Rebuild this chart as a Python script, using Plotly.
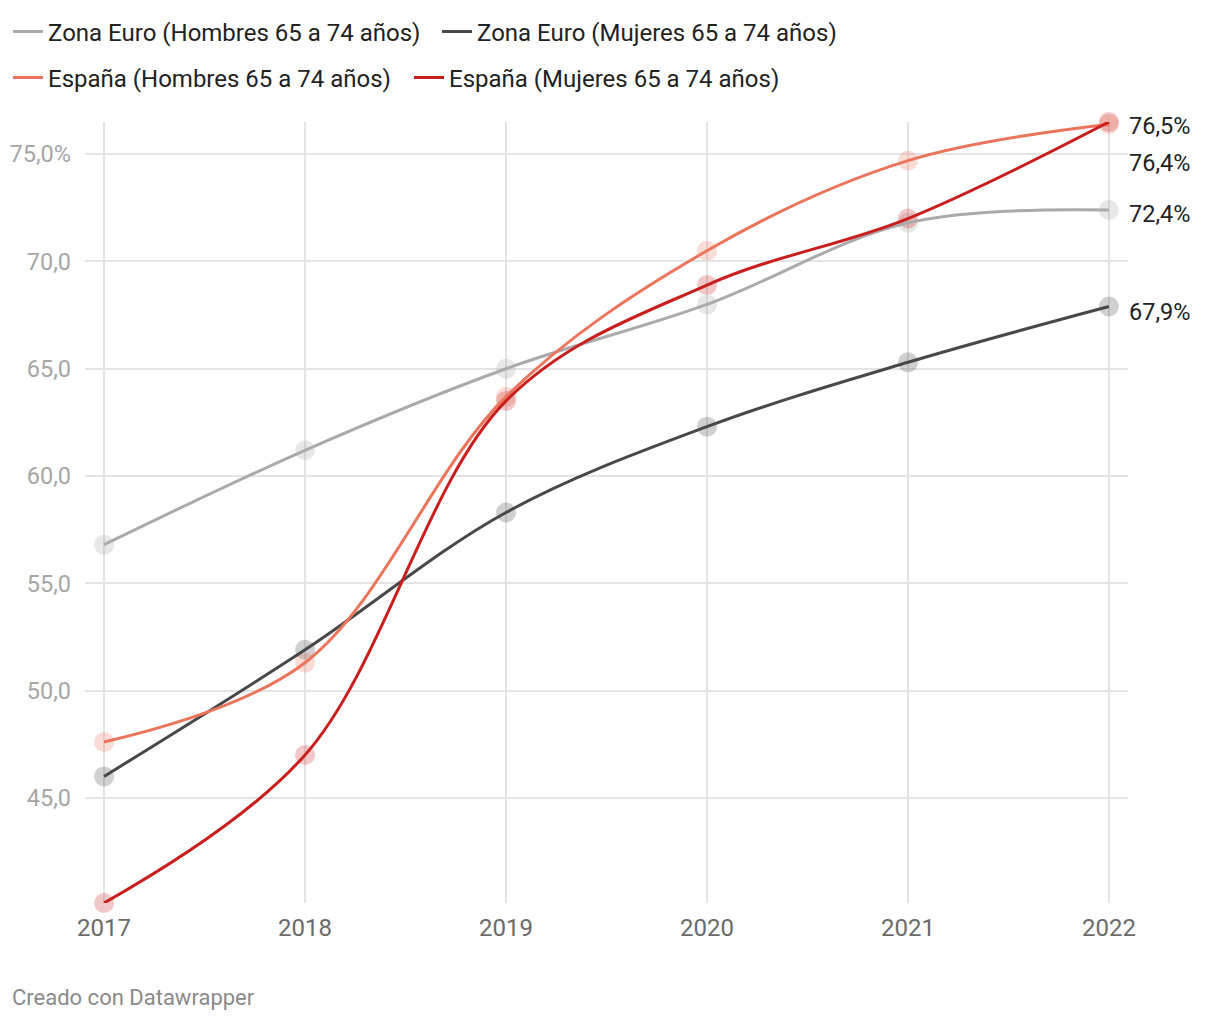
import plotly.graph_objects as go

years = [2017, 2018, 2019, 2020, 2021, 2022]
series_names = [
    "Zona Euro (Hombres 65 a 74 años)",
    "Zona Euro (Mujeres 65 a 74 años)",
    "España (Hombres 65 a 74 años)",
    "España (Mujeres 65 a 74 años)",
]
ze_hombres = [56.8, 61.2, 65.0, 68.0, 71.8, 72.4]
ze_mujeres = [46.0, 51.9, 58.3, 62.3, 65.3, 67.9]
es_hombres = [47.6, 51.3, 63.7, 70.5, 74.7, 76.4]
es_mujeres = [40.1, 47.0, 63.5, 68.9, 72.0, 76.5]

y_tickvals = [45, 50, 55, 60, 65, 70, 75]
y_ticktext = ["45,0", "50,0", "55,0", "60,0", "65,0", "70,0", "75,0%"]
end_labels = ["72,4%", "67,9%", "76,4%", "76,5%"]
end_label_shift = [-4, -5, -39, -4]

line_colors = ["#aaaaaa", "#484848", "#eb755c", "#c81e1e"]
marker_colors = ["rgba(170,170,170,0.28)", "rgba(72,72,72,0.26)",
                 "rgba(235,117,92,0.25)", "rgba(200,30,30,0.25)"]
legend_ids = ["legend", "legend2", "legend3", "legend4"]
# legend placement (px from left, px from top of the figure)
legend_x_px = [-1, 429, -1, 401]
legend_y_px = [24, 24, 70, 70]

values = [ze_hombres, ze_mujeres, es_hombres, es_mujeres]

fig = go.Figure()

# markers first (beneath lines)
for vals, mc in zip(values, marker_colors):
    fig.add_trace(go.Scatter(
        x=years, y=vals, mode="markers",
        marker=dict(size=20, color=mc, line=dict(width=0)),
        showlegend=False, hoverinfo="skip", cliponaxis=False,
    ))

for name, vals, lc, lg in zip(series_names, values, line_colors, legend_ids):
    fig.add_trace(go.Scatter(
        x=years, y=vals, mode="lines", name=name, legend=lg,
        line=dict(color=lc, width=3, shape="spline", smoothing=1.0),
        cliponaxis=False,
    ))

for vals, lab, sh in zip(values, end_labels, end_label_shift):
    fig.add_annotation(
        x=years[-1], y=vals[-1], text=lab, showarrow=False,
        xanchor="left", yanchor="middle", xshift=18, yshift=sh,
        font=dict(family="Roboto", size=23.5, color="#222222"),
    )

L, T, PW, PH = 77, 114, 1043, 781
fig.add_annotation(
    xref="paper", yref="paper", x=(2 - L) / PW, y=-(989 - (T + PH)) / PH,
    text="Creado con Datawrapper", showarrow=False,
    xanchor="left", yanchor="middle",
    font=dict(family="Roboto", size=22, color="#8a8a8a"),
)

legends = {}
for lg, xp, yp in zip(legend_ids, legend_x_px, legend_y_px):
    legends[lg] = dict(
        orientation="h", xref="container", yref="container",
        x=xp / 1220, y=1 - yp / 1020, xanchor="left", yanchor="middle",
        font=dict(family="Roboto", size=24, color="#222222"),
        itemwidth=30, bgcolor="rgba(0,0,0,0)",
    )

fig.update_layout(
    width=1220, height=1020,
    margin=dict(l=L, r=1220 - L - PW, t=T, b=1020 - T - PH),
    plot_bgcolor="white", paper_bgcolor="white",
    font=dict(family="Roboto", size=20, color="#333333"),
    **legends,
    xaxis=dict(
        range=[2016.905, 2022.095], automargin=False,
        tickvals=years, ticktext=[str(y) for y in years],
        showgrid=True, gridcolor="#e4e4e4", gridwidth=2,
        zeroline=False, showline=False,
        tickfont=dict(family="Roboto", size=24, color="#6a6a6a"),
        ticks="", ticklabelstandoff=8,
    ),
    yaxis=dict(
        range=[40.1, 76.5], automargin=False,
        tickvals=y_tickvals, ticktext=y_ticktext,
        showgrid=True, gridcolor="#e4e4e4", gridwidth=2,
        zeroline=False, showline=False,
        tickfont=dict(family="Roboto", size=23.5, color="#a6a6a6"),
        ticks="", ticklabelstandoff=13,
    ),
)

fig.write_html("out.html")
